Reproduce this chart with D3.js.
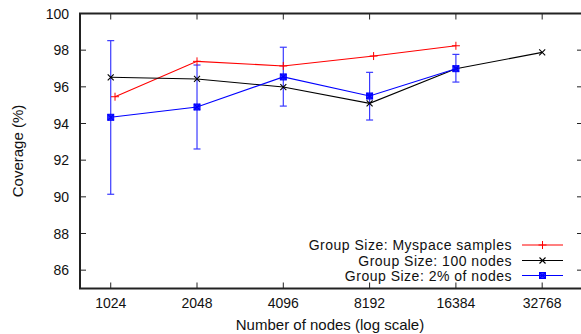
<!DOCTYPE html>
<html>
<head>
<meta charset="utf-8">
<script src="https://cdn.jsdelivr.net/npm/d3@7"></script>
<style>
  body { margin: 0; background: #fff; }
  svg { display: block; font-family: "Liberation Sans", Arial, sans-serif; }
</style>
</head>
<body>
<svg id="chart" width="581" height="334"></svg>
<script>
// values
let xTicks = [1024, 2048, 4096, 8192, 16384, 32768];
let yTicks = [86, 88, 90, 92, 94, 96, 98, 100];

let myspaceX = [1060, 2048, 4096, 8460, 16384];
let myspaceY = [95.46, 97.39, 97.14, 97.68, 98.24];

let fixedX = [1024, 2048, 4096, 8192, 16384, 32768];
let fixedY = [96.52, 96.43, 95.99, 95.10, 96.99, 97.88];

let pctX = [1024, 2048, 4096, 8192, 16384];
let pctY = [94.34, 94.90, 96.54, 95.50, 96.99];
let pctLo = [90.14, 92.61, 94.95, 94.19, 96.26];
let pctHi = [98.52, 97.19, 98.16, 96.79, 97.77];

let seriesNames = ["Group Size: Myspace samples", "Group Size: 100 nodes", "Group Size: 2% of nodes"];

function drawChart() {
  let svg = d3.select("#chart"),
      margin = {top: 13.5, right: -2, bottom: 45.5, left: 80},
      width = +svg.attr("width") - margin.left - margin.right,
      height = +svg.attr("height") - margin.top - margin.bottom;

  let x = d3.scaleLog().base(2).domain([Math.pow(2, 9.644), Math.pow(2, 15.473)]).range([0, width]),
      y = d3.scaleLinear().domain([85, 100]).range([height, 0]);

  let g = svg.append("g").attr("transform", "translate(" + margin.left + "," + margin.top + ")");

  let frame = "#222";

  // ticks on all four sides, pointing inward
  let tk = 6;
  g.append("g").selectAll("line").data(yTicks).enter().append("line")
    .attr("x1", 0).attr("x2", tk).attr("y1", d => y(d)).attr("y2", d => y(d))
    .attr("stroke", frame).attr("stroke-width", 1);
  g.append("g").selectAll("line").data(yTicks).enter().append("line")
    .attr("x1", width).attr("x2", width - tk).attr("y1", d => y(d)).attr("y2", d => y(d))
    .attr("stroke", frame).attr("stroke-width", 1);
  g.append("g").selectAll("line").data(xTicks).enter().append("line")
    .attr("x1", d => x(d)).attr("x2", d => x(d)).attr("y1", height).attr("y2", height - tk)
    .attr("stroke", frame).attr("stroke-width", 1);
  g.append("g").selectAll("line").data(xTicks).enter().append("line")
    .attr("x1", d => x(d)).attr("x2", d => x(d)).attr("y1", 0).attr("y2", tk)
    .attr("stroke", frame).attr("stroke-width", 1);

  // tick labels
  g.append("g").selectAll("text").data(yTicks).enter().append("text")
    .attr("x", -11).attr("y", d => y(d)).attr("dy", "0.36em")
    .attr("text-anchor", "end").style("font-size", "14px").attr("fill", "#111")
    .text(d => d);
  g.append("g").selectAll("text").data(xTicks).enter().append("text")
    .attr("x", d => x(d)).attr("y", height + 19.5)
    .attr("text-anchor", "middle").style("font-size", "14px").attr("fill", "#111")
    .text(d => d);

  // axis titles
  svg.append("text")
    .attr("transform", "translate(23," + (margin.top + height / 2) + ") rotate(-90)")
    .attr("text-anchor", "middle").style("font-size", "15px").attr("fill", "#111")
    .text("Coverage (%)");
  svg.append("text")
    .attr("x", 330).attr("y", 330)
    .attr("text-anchor", "middle").style("font-size", "15px").attr("fill", "#111")
    .text("Number of nodes (log scale)");

  let line = d3.line().x(d => x(d[0])).y(d => y(d[1]));

  // error bars for the 2% series
  let err = g.append("g").attr("stroke", "#3a3aff").attr("stroke-width", 1.2);
  pctX.forEach((n, i) => {
    let cx = x(n);
    err.append("line").attr("x1", cx).attr("x2", cx).attr("y1", y(pctLo[i])).attr("y2", y(pctHi[i]));
    err.append("line").attr("x1", cx - 3.5).attr("x2", cx + 3.5).attr("y1", y(pctLo[i])).attr("y2", y(pctLo[i]));
    err.append("line").attr("x1", cx - 3.5).attr("x2", cx + 3.5).attr("y1", y(pctHi[i])).attr("y2", y(pctHi[i]));
  });

  let series = [
    {xs: myspaceX, ys: myspaceY, color: "#ff0000", mark: "plus"},
    {xs: fixedX, ys: fixedY, color: "#000000", mark: "cross"},
    {xs: pctX, ys: pctY, color: "#0000ff", mark: "box"}
  ];

  function marker(sel, type, color, cx, cy) {
    let s = 4;
    if (type === "plus") {
      sel.append("line").attr("x1", cx - s).attr("x2", cx + s).attr("y1", cy).attr("y2", cy)
        .attr("stroke", color).attr("stroke-width", 1);
      sel.append("line").attr("x1", cx).attr("x2", cx).attr("y1", cy - s).attr("y2", cy + s)
        .attr("stroke", color).attr("stroke-width", 1);
    }
    if (type === "cross" || type === "box") {
      let c = 3;
      sel.append("line").attr("x1", cx - c).attr("x2", cx + c).attr("y1", cy - c).attr("y2", cy + c)
        .attr("stroke", color).attr("stroke-width", 1.1);
      sel.append("line").attr("x1", cx - c).attr("x2", cx + c).attr("y1", cy + c).attr("y2", cy - c)
        .attr("stroke", color).attr("stroke-width", 1.1);
    }
    if (type === "box") {
      sel.append("rect").attr("x", cx - 3).attr("y", cy - 3).attr("width", 6).attr("height", 6)
        .attr("fill", color).attr("fill-opacity", 0.8).attr("stroke", color).attr("stroke-width", 1);
    }
  }

  series.forEach(s => {
    let pts = s.xs.map((n, i) => [n, s.ys[i]]);
    g.append("path").attr("d", line(pts)).attr("fill", "none")
      .attr("stroke", s.color).attr("stroke-width", 1.1);
    let mg = g.append("g");
    pts.forEach(p => marker(mg, s.mark, s.color, x(p[0]), y(p[1])));
  });

  // frame
  g.append("rect").attr("x", 0).attr("y", 0).attr("width", width).attr("height", height)
    .attr("fill", "none").attr("stroke", frame).attr("stroke-width", 2);

  // legend
  let leg = svg.append("g");
  let rowsY = [245, 260.5, 275.5];
  series.forEach((s, i) => {
    leg.append("text").attr("x", 512).attr("y", rowsY[i]).attr("dy", "0.36em")
      .attr("text-anchor", "end").style("font-size", "14px").style("letter-spacing", "0.5px")
      .attr("fill", "#111")
      .text(seriesNames[i]);
    leg.append("line").attr("x1", 522).attr("x2", 563).attr("y1", rowsY[i]).attr("y2", rowsY[i])
      .attr("stroke", s.color).attr("stroke-width", 1.1);
    marker(leg, s.mark, s.color, 542.5, rowsY[i]);
  });
}

drawChart();
</script>
</body>
</html>
